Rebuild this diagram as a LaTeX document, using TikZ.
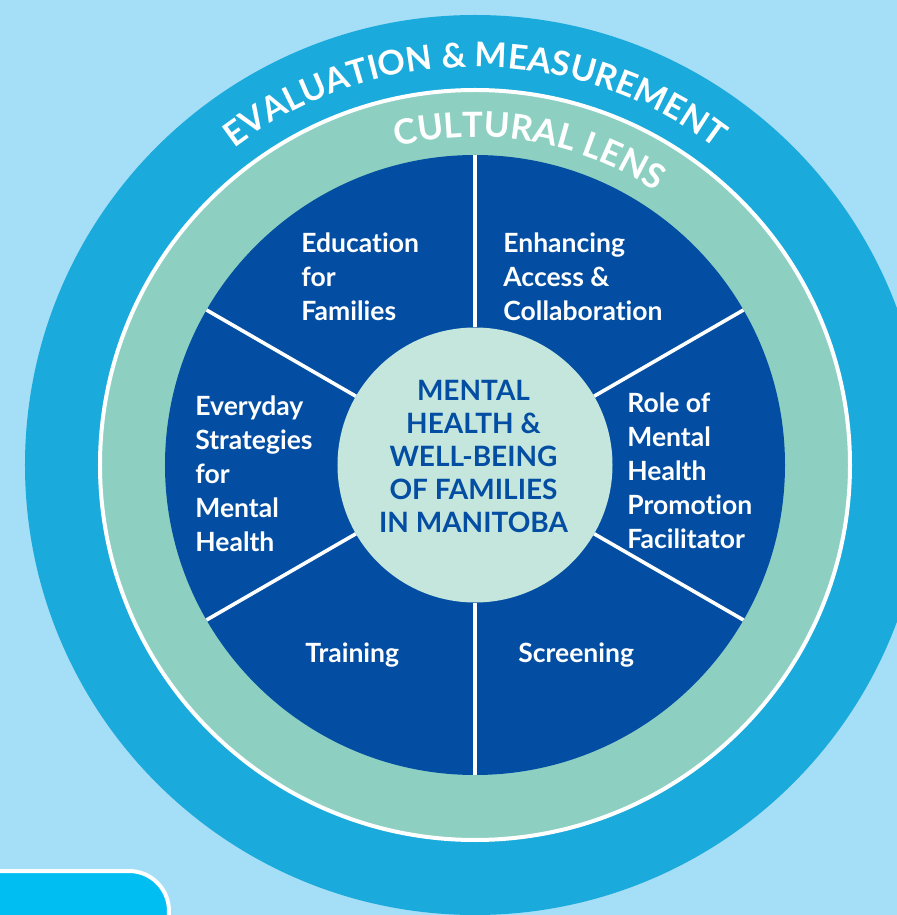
\documentclass[tikz,border=0pt]{standalone}
\usepackage{fontspec}
\setmainfont{Lato}[Ligatures=NoCommon]
\usepackage[rgb]{xcolor}
\usepackage{tikz}
\usetikzlibrary{decorations.text}
\newdimen\ringA
\newdimen\ringB
\newdimen\ringC
\newdimen\ringD
\newdimen\evalR
\newdimen\lensR
\setlength{\ringA}{225pt}
\setlength{\ringB}{187.5pt}
\setlength{\ringC}{155pt}
\setlength{\ringD}{68.75pt}
\setlength{\evalR}{199pt}
\setlength{\lensR}{164pt}
\definecolor{sky}{HTML}{A5DEF7}
\definecolor{evalblue}{HTML}{1AAADB}
\definecolor{lensgreen}{HTML}{8DD0C2}
\definecolor{wheelblue}{HTML}{034EA2}
\definecolor{hubgreen}{HTML}{C4E6DD}
\definecolor{tabcyan}{HTML}{00BEF2}
\newcommand{\evalfont}{\fontsize{17}{17}\selectfont\bfseries\color{white}}
\newcommand{\lensfont}{\fontsize{17.4}{17.4}\selectfont\bfseries\color{white}}
\tikzset{
  segment/.style={text=white, font=\fontsize{13.25}{17}\selectfont\bfseries,
    align=left, anchor=north west, inner sep=0pt},
  spoke/.style={draw=white, line width=1.8pt},
}

\begin{document}
\begin{tikzpicture}
    \useasboundingbox (-237.5pt,-225pt) rectangle (211pt,232.5pt);
    \clip (-237.5pt,-225pt) rectangle (211pt,232.5pt);
    \fill[sky] (-237.5pt,-225pt) rectangle (211pt,232.5pt);
    % rings
    \fill[evalblue] (0,0) circle[radius=\ringA];
    \filldraw[fill=lensgreen, draw=white, line width=2pt] (0,0) circle[radius=\ringB];
    \fill[wheelblue] (0,0) circle[radius=\ringC];
    \foreach \a in {30,90,...,330}
      \draw[spoke] (\a:\ringD) -- (\a:\ringC);
    \fill[hubgreen] (0,0) circle[radius=\ringD];
    \path[decorate, decoration={text along path, text align=center,
        text={|\evalfont|EVALUATION {\&} MEASUREMENT}}]
      (135:\evalR) arc[start angle=135, end angle=45, radius=\evalR];
    \path[decorate, decoration={text along path, text align=center,
        text={|\lensfont|CULTURAL LENS}}]
      (112:\lensR) arc[start angle=112, end angle=48.4, radius=\lensR];
    % segments
    \node[segment] (edu) at (-87pt,116.5pt) {Education\\for\\Families};
    \node[segment] (access) at (14pt,116.5pt) {Enhancing\\Access \&\\Collaboration};
    \node[segment] (role) at (76pt,36.5pt) {Role of\\Mental\\Health\\Promotion\\Facilitator};
    \node[segment] (everyday) at (-140pt,35pt) {Everyday\\Strategies\\for\\Mental\\Health};
    \node[segment] (training) at (-85pt,-88.5pt) {Training};
    \node[segment] (screening) at (21.5pt,-88.5pt) {Screening};
    \node[text=wheelblue, font=\fontsize{14}{16.5}\selectfont\bfseries, align=center,
      anchor=north, inner sep=0pt] (hub) at (-0.75pt,42.5pt)
      {MENTAL\\HEALTH \&\\WELL-BEING\\OF FAMILIES\\IN MANITOBA};
    \filldraw[fill=tabcyan, draw=white, line width=2pt, rounded corners=20pt]
      (-260pt,-250pt) rectangle (-153pt,-203pt);
\end{tikzpicture}
\end{document}
